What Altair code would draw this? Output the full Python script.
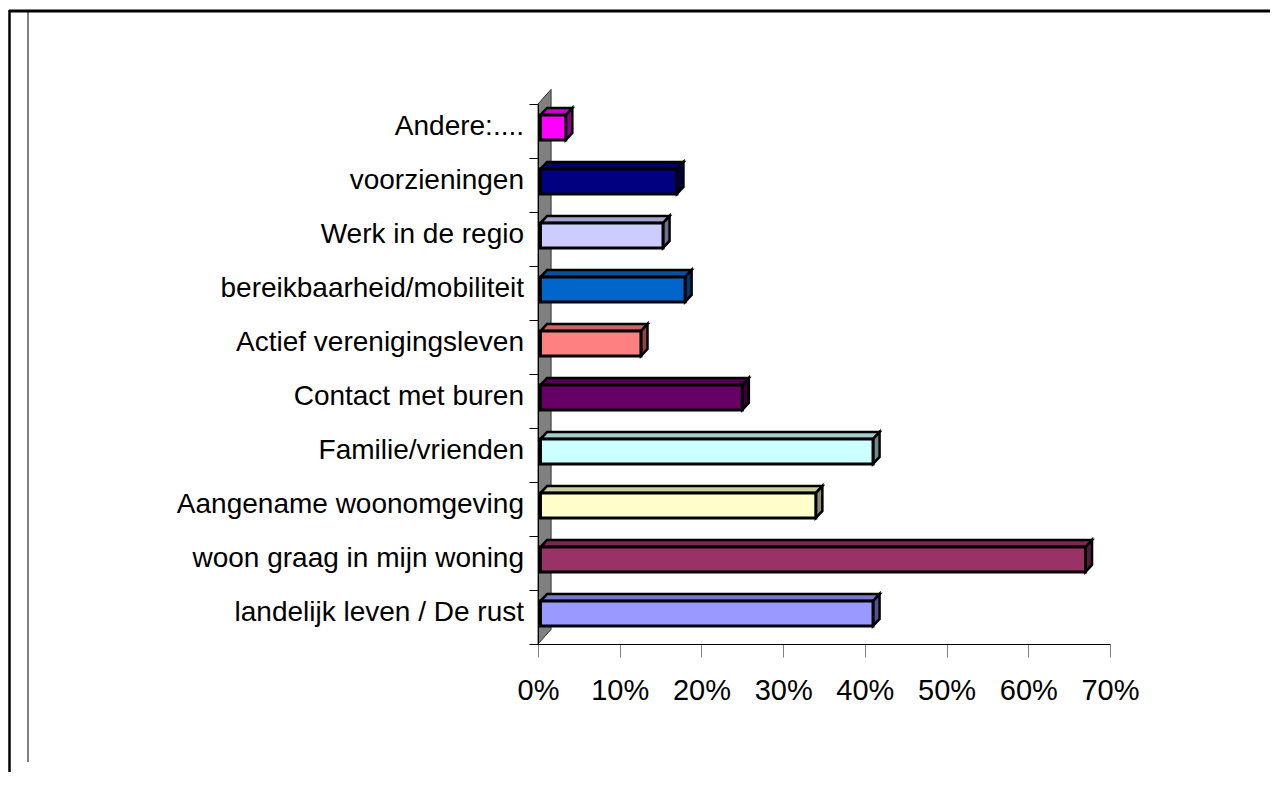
import altair as alt
import pandas as pd

# ---- data (bottom to top) ----
categories = [
    "landelijk leven / De rust",
    "woon graag in mijn woning",
    "Aangename woonomgeving",
    "Familie/vrienden",
    "Contact met buren",
    "Actief verenigingsleven",
    "bereikbaarheid/mobiliteit",
    "Werk in de regio",
    "voorzieningen",
    "Andere:....",
]
values = [0.41, 0.67, 0.34, 0.41, 0.25, 0.126, 0.18, 0.153, 0.17, 0.034]
colors = ["#9999FF", "#993366", "#FFFFCC", "#CCFFFF", "#660066",
          "#FF8080", "#0066CC", "#CCCCFF", "#000080", "#FF00FF"]
tick_values = [0, 0.1, 0.2, 0.3, 0.4, 0.5, 0.6, 0.7]

# ---- styling constants ----
FONT = "Liberation Sans Narrow, Arial Narrow, Liberation Sans, Arial, sans-serif"
BAR_H = 0.46
LIFT = 0.065
DX = 0.008
DY = 0.13
X0 = 0.003
WALL_DX = 0.016
WALL_DY = 0.27


def shade(hex_color, f):
    h = hex_color.lstrip("#")
    r, g, b = (int(h[i:i + 2], 16) for i in (0, 2, 4))
    return "#%02x%02x%02x" % (int(r * f), int(g * f), int(b * f))


front_rows, top_rows, side_rows, label_rows = [], [], [], []
for i, (cat, v, col) in enumerate(zip(categories, values, colors)):
    pos = i + 0.5
    yb = pos + LIFT - BAR_H / 2
    yt = pos + LIFT + BAR_H / 2
    front_rows.append(dict(cat=cat, x=X0, x2=v, y=yb, y2=yt, c=col))
    top_rows.append(dict(cat=cat, y=yt, x=X0, x2=v, c=shade(col, 0.8)))
    top_rows.append(dict(cat=cat, y=yt + DY, x=X0 + DX, x2=v + DX, c=shade(col, 0.8)))
    side_rows.append(dict(cat=cat, x=v, y=yb, y2=yt, c=shade(col, 0.55)))
    side_rows.append(dict(cat=cat, x=v + DX, y=yb + DY, y2=yt + DY, c=shade(col, 0.55)))
    label_rows.append(dict(cat=cat, x=0, y=pos + LIFT))

front_df = pd.DataFrame(front_rows)
top_df = pd.DataFrame(top_rows)
side_df = pd.DataFrame(side_rows)
label_df = pd.DataFrame(label_rows)
wall_df = pd.DataFrame({"x": [0, WALL_DX], "y": [0, WALL_DY],
                        "y2": [len(categories), len(categories) + WALL_DY]})

xs = alt.Scale(domain=[0, 0.7], nice=False, zero=False)
ys = alt.Scale(domain=[0, len(categories)], nice=False, zero=False)
xaxis = alt.Axis(values=tick_values, format=".0%", title=None, grid=False,
                 labelFont=FONT, labelFontSize=29, labelColor="black",
                 labelPadding=19, tickColor="#808080", tickSize=13,
                 domainColor="black", domainWidth=1, labelFlush=False)
yaxis = alt.Axis(values=list(range(len(categories) + 1)), labels=False, title=None,
                 grid=False, tickColor="black", tickSize=9, domainColor="black",
                 domainWidth=1, zindex=1)

X = lambda f="x": alt.X(f + ":Q", scale=xs, axis=xaxis)
Y = lambda f="y": alt.Y(f + ":Q", scale=ys, axis=yaxis)

wall = alt.Chart(wall_df).mark_area(orient="vertical", fill="#808080",
                                    stroke="#303030", strokeWidth=1).encode(
    x=X(), y=Y(), y2="y2:Q")

top = alt.Chart(top_df).mark_area(orient="horizontal", stroke="black",
                                  strokeWidth=2.5, strokeJoin="miter").encode(
    y=Y(), x=X(), x2="x2:Q", detail="cat:N", fill=alt.Fill("c:N", scale=None))

side = alt.Chart(side_df).mark_area(orient="vertical", stroke="black",
                                    strokeWidth=2.5, strokeJoin="miter").encode(
    x=X(), y=Y(), y2="y2:Q", detail="cat:N", fill=alt.Fill("c:N", scale=None))

front = alt.Chart(front_df).mark_rect(stroke="black", strokeWidth=3).encode(
    x=X(), x2="x2:Q", y=Y(), y2="y2:Q", fill=alt.Fill("c:N", scale=None))

labels = alt.Chart(label_df).mark_text(align="right", baseline="middle", dx=-14,
                                       font=FONT, fontSize=28, color="black").encode(
    x=X(), y=Y(), text="cat:N")

one = pd.DataFrame({"a": [0]})
frame_top = alt.Chart(one).mark_rule(color="black", strokeWidth=3).encode(
    x=alt.value(-529), x2=alt.value(735), y=alt.value(-93))
frame_left = alt.Chart(one).mark_rule(color="black", strokeWidth=2.5).encode(
    x=alt.value(-528.5), y=alt.value(-94), y2=alt.value(680))
frame_inner = alt.Chart(one).mark_rule(color="black", strokeWidth=1).encode(
    x=alt.value(-510), y=alt.value(-92), y2=alt.value(658))

chart = alt.layer(wall, top, side, front, labels, frame_top, frame_left, frame_inner).properties(
    width=572, height=540,
    padding={"left": 530, "top": 96, "right": 160, "bottom": 128},
    autosize=alt.AutoSizeParams(type="none"),
    background="white",
).configure_view(stroke=None)

chart.save("out.html", embed_options={"renderer": "svg", "actions": False})
